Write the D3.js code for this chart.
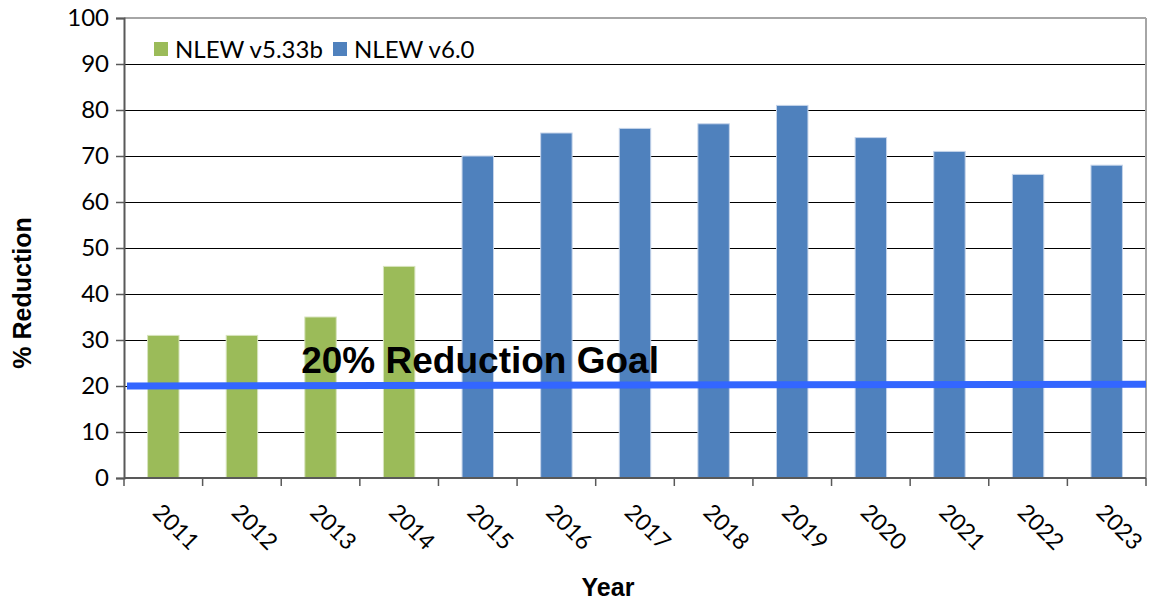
<!DOCTYPE html>
<html>
<head>
<meta charset="utf-8">
<script src="https://cdn.jsdelivr.net/npm/d3@7"></script>
<style>
  html, body { margin: 0; padding: 0; background: #fff; }
  svg { display: block; }
</style>
</head>
<body>
<svg id="chart" width="1151" height="601"></svg>
<script>
// Reduction by year, two model versions
const years = ["2011","2012","2013","2014","2015","2016","2017","2018","2019","2020","2021","2022","2023"];
const seriesNames = ["NLEW v5.33b", "NLEW v6.0"];
const seriesOfYear = [0,0,0,0,1,1,1,1,1,1,1,1,1];
const reduction = [31,31,35,46,70,75,76,77,81,74,71,66,68];
const yTicks = [0,10,20,30,40,50,60,70,80,90,100];
// goal line values at the left and right ends of the plot
const goalLine = [20, 20.4];
const goalLabel = "20% Reduction Goal";

const fills = ["#9bbb59", "#4f81bd"];
const edges = ["#d7e4bd", "#c5d4ea"];

const svg = d3.select("#chart");
const margin = { top: 18, right: 5, bottom: 123, left: 124 };
const W = 1151, H = 601;
const iw = W - margin.left - margin.right;
const ih = H - margin.top - margin.bottom;

const g = svg.append("g").attr("transform", `translate(${margin.left},${margin.top})`);

const x = d3.scaleBand().domain(years).range([0, iw]).paddingInner(0).paddingOuter(0);
const y = d3.scaleLinear().domain([0, 100]).range([ih, 0]);

const labelFont = "Lato, 'Open Sans', sans-serif";
const titleFont = "Arial, 'Liberation Sans', sans-serif";

// gridlines
g.append("g").selectAll("line")
  .data(yTicks.filter(t => t > 0 && t < 100))
  .join("line")
  .attr("x1", 0).attr("x2", iw)
  .attr("y1", d => Math.round(y(d)) + 0.5).attr("y2", d => Math.round(y(d)) + 0.5)
  .attr("stroke", "#000").attr("stroke-width", 1);

// plot frame (top and right)
g.append("line").attr("x1", 0).attr("x2", iw).attr("y1", y(100)).attr("y2", y(100))
  .attr("stroke", "#a6a6a6").attr("stroke-width", 2);
g.append("line").attr("x1", iw).attr("x2", iw).attr("y1", y(100)).attr("y2", y(0))
  .attr("stroke", "#a6a6a6").attr("stroke-width", 2);

// bars
const barW = x.bandwidth() * 0.4;
g.append("g").selectAll("rect")
  .data(years)
  .join("rect")
  .attr("x", (d) => x(d) + (x.bandwidth() - barW) / 2)
  .attr("y", (d, i) => y(reduction[i]))
  .attr("width", barW)
  .attr("height", (d, i) => y(0) - y(reduction[i]))
  .attr("fill", (d, i) => fills[seriesOfYear[i]])
  .attr("stroke", (d, i) => edges[seriesOfYear[i]])
  .attr("stroke-width", 1);

// y axis
const yAxis = g.append("g")
  .call(d3.axisLeft(y).tickValues(yTicks).tickSize(8).tickPadding(7).tickFormat(d3.format("d")));
yAxis.select(".domain").attr("stroke", "#595959").attr("stroke-width", 2);
yAxis.selectAll(".tick line").attr("stroke", "#595959").attr("stroke-width", 1.5);
yAxis.selectAll(".tick text")
  .attr("font-family", labelFont)
  .attr("font-size", 24).attr("fill", "#000");

// x axis with ticks at band boundaries
const xAxisG = g.append("g").attr("transform", `translate(0,${ih})`);
xAxisG.append("line").attr("x1", 0).attr("x2", iw).attr("y1", 0).attr("y2", 0)
  .attr("stroke", "#595959").attr("stroke-width", 2);
const bounds = years.map(d => x(d)).concat([iw]);
xAxisG.selectAll("line.tk").data(bounds).join("line").attr("class", "tk")
  .attr("x1", d => d).attr("x2", d => d).attr("y1", 0).attr("y2", 8)
  .attr("stroke", "#595959").attr("stroke-width", 1.5);
xAxisG.selectAll("text").data(years).join("text")
  .attr("transform", d => `translate(${x(d) + x.bandwidth() / 2},${24}) rotate(45)`)
  .attr("dy", "0.72em")
  .attr("font-family", labelFont)
  .attr("font-size", 23).attr("fill", "#000")
  .text(d => d);

// goal line
g.append("line")
  .attr("x1", 3).attr("x2", iw)
  .attr("y1", y(goalLine[0])).attr("y2", y(goalLine[1]))
  .attr("stroke", "#3366ff").attr("stroke-width", 7);

g.append("text")
  .attr("x", x("2013") + 20).attr("y", y(goalLine[0]) - 13)
  .attr("font-family", titleFont)
  .attr("font-weight", "bold").attr("font-size", 37).attr("fill", "#000")
  .text(goalLabel);

// legend
const legend = g.append("g").attr("transform", `translate(30, 24)`);
const legX = [0, 179];
seriesNames.forEach((name, i) => {
  const lg = legend.append("g").attr("transform", `translate(${legX[i]},0)`);
  lg.append("rect").attr("x", 0).attr("y", 0).attr("width", 14).attr("height", 14).attr("fill", fills[i]);
  lg.append("text").attr("x", 21).attr("y", 7).attr("dy", "0.36em")
    .attr("font-family", labelFont)
    .attr("font-size", 24).attr("fill", "#000").text(name);
});

// axis titles
svg.append("text")
  .attr("transform", `translate(31,293) rotate(-90)`)
  .attr("text-anchor", "middle")
  .attr("font-family", titleFont)
  .attr("font-weight", "bold").attr("font-size", 25).attr("fill", "#000")
  .text("% Reduction");
svg.append("text")
  .attr("x", 608).attr("y", 596)
  .attr("text-anchor", "middle")
  .attr("font-family", titleFont)
  .attr("font-weight", "bold").attr("font-size", 25).attr("fill", "#000")
  .text("Year");
</script>
</body>
</html>
